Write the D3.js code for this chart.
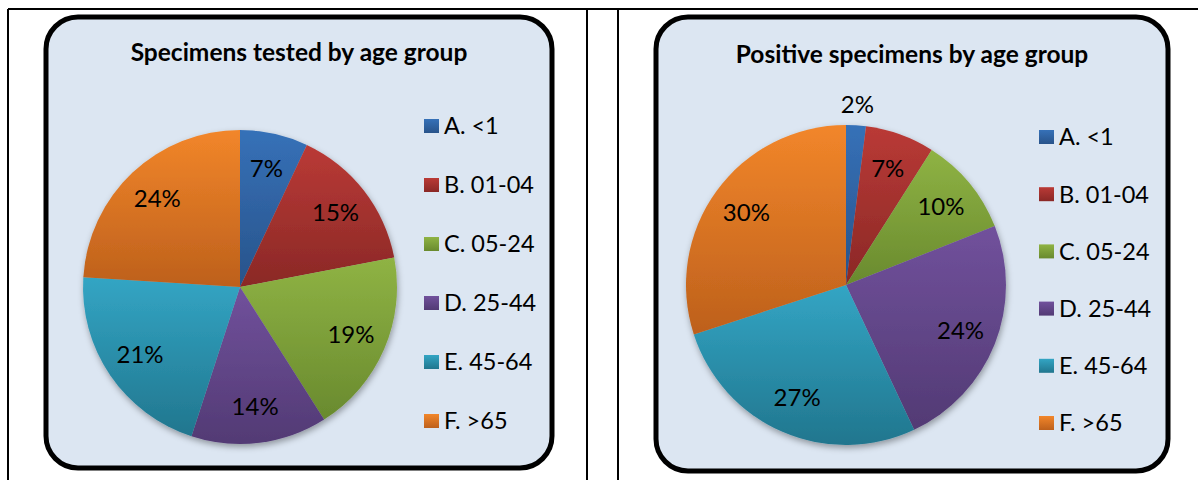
<!DOCTYPE html>
<html>
<head>
<meta charset="utf-8">
<script src="https://cdn.jsdelivr.net/npm/d3@7"></script>
<style>
  body { margin: 0; background: #ffffff; }
  svg { display: block; }
  text { font-family: Lato, "Open Sans", "DejaVu Sans", sans-serif; fill: #000; }
</style>
</head>
<body>
<svg id="chart" width="1201" height="480"></svg>
<script>
// Age groups shared by both pies
const categories = ["A. <1", "B. 01-04", "C. 05-24", "D. 25-44", "E. 45-64", "F. >65"];
// Share of specimens tested, percent
const testedPct = [7, 15, 19, 14, 21, 24];
// Share of positive specimens, percent
const positivePct = [2, 7, 10, 24, 27, 30];
// Chart titles
const chartTitles = ["Specimens tested by age group", "Positive specimens by age group"];

// Slice colours: light (top) and dark (bottom) end of each vertical gradient
const sliceLight = ["#3671b8", "#ba3a36", "#8fb344", "#71519c", "#33a5c4", "#f2862a"];
const sliceDark  = ["#28538a", "#8a2826", "#698a2e", "#523a74", "#21768e", "#bd601c"];

const svg = d3.select("#chart");
const defs = svg.append("defs");

categories.forEach((c, i) => {
  const g = defs.append("linearGradient")
    .attr("id", "grad" + i)
    .attr("x1", 0).attr("y1", 0).attr("x2", 0).attr("y2", 1);
  g.append("stop").attr("offset", "0%").attr("stop-color", sliceLight[i]);
  g.append("stop").attr("offset", "100%").attr("stop-color", sliceDark[i]);
});

const shadow = defs.append("filter")
  .attr("id", "pieShadow")
  .attr("x", "-20%").attr("y", "-20%").attr("width", "140%").attr("height", "140%");
shadow.append("feDropShadow")
  .attr("dx", 1).attr("dy", 3).attr("stdDeviation", 3)
  .attr("flood-color", "#000").attr("flood-opacity", 0.35);

// Table rule lines around the two cells
const rules = svg.append("g").attr("stroke", "#000").attr("stroke-width", 2);
rules.append("line").attr("x1", 8).attr("x2", 1198).attr("y1", 9).attr("y2", 9);
rules.append("line").attr("x1", 8).attr("x2", 8).attr("y1", 9).attr("y2", 480);
rules.append("line").attr("x1", 587).attr("x2", 587).attr("y1", 9).attr("y2", 480);
rules.append("line").attr("x1", 618).attr("x2", 618).attr("y1", 9).attr("y2", 480);

const panels = [
  { values: testedPct, title: chartTitles[0],
    box: { x0: 46, y0: 17, x1: 552, y1: 468 },
    cx: 240, cy: 287, r: 157, titleY: 61,
    legendX: 424, legendY: 126, legendStep: 59 },
  { values: positivePct, title: chartTitles[1],
    box: { x0: 656, y0: 17, x1: 1168, y1: 471 },
    cx: 846, cy: 285, r: 160, titleY: 63,
    legendX: 1039, legendY: 137, legendStep: 57.2 }
];

const pie = d3.pie().sort(null).value(d => d);

panels.forEach(p => {
  const g = svg.append("g");

  g.append("rect")
    .attr("x", p.box.x0).attr("y", p.box.y0)
    .attr("width", p.box.x1 - p.box.x0).attr("height", p.box.y1 - p.box.y0)
    .attr("rx", 32).attr("ry", 32)
    .attr("fill", "#dce6f2")
    .attr("stroke", "#000").attr("stroke-width", 5);

  g.append("text")
    .attr("x", (p.box.x0 + p.box.x1) / 2).attr("y", p.titleY)
    .attr("text-anchor", "middle")
    .attr("font-size", 24.5).attr("font-weight", "bold")
    .text(p.title);

  const arcs = pie(p.values);
  const arc = d3.arc().innerRadius(0).outerRadius(p.r);
  const inner = d3.arc().innerRadius(p.r * 0.77).outerRadius(p.r * 0.77);
  const outer = d3.arc().innerRadius(p.r * 1.13).outerRadius(p.r * 1.13);

  const pieG = g.append("g")
    .attr("transform", `translate(${p.cx},${p.cy})`);

  pieG.append("g").attr("filter", "url(#pieShadow)")
    .selectAll("path").data(arcs).join("path")
    .attr("d", arc)
    .attr("fill", (d, i) => `url(#grad${i})`);

  pieG.append("g").selectAll("text").data(arcs).join("text")
    .attr("transform", d => {
      const small = (d.endAngle - d.startAngle) < 0.2;
      const [x, y] = (small ? outer : inner).centroid(d);
      return `translate(${x},${y})`;
    })
    .attr("text-anchor", "middle")
    .attr("dy", "0.35em")
    .attr("font-size", 24)
    .text(d => d.data + "%");

  const legend = g.append("g").selectAll("g").data(categories).join("g")
    .attr("transform", (d, i) => `translate(${p.legendX},${p.legendY + i * p.legendStep})`);
  legend.append("rect")
    .attr("x", 0).attr("y", -7).attr("width", 15).attr("height", 14)
    .attr("fill", (d, i) => `url(#grad${i})`);
  legend.append("text")
    .attr("x", 20).attr("dy", "0.36em")
    .attr("font-size", 23.5)
    .text(d => d);
});
</script>
</body>
</html>
